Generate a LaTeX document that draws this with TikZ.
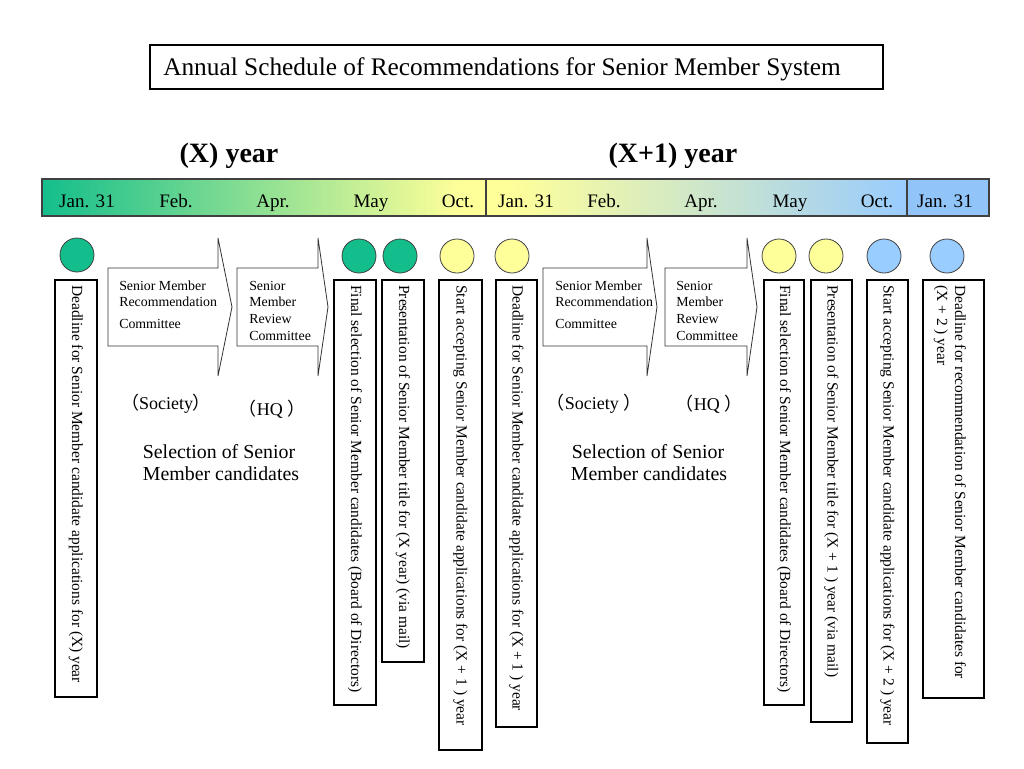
\documentclass[tikz,border=0pt]{standalone}
\usepackage{fontspec}
\setmainfont{Liberation Serif}
\newfontfamily\cjk{Noto Sans CJK JP}
\definecolor{cgreen}{RGB}{20,190,140}
\definecolor{cyellow}{RGB}{255,255,153}
\definecolor{cblue}{RGB}{153,204,255}
\definecolor{cbluebar}{RGB}{145,196,248}
\pgfdeclarehorizontalshading{barshade}{100bp}{color(0bp)=(cgreen); color(25bp)=(cgreen); color(49.2bp)=(cyellow); color(52bp)=(cyellow); color(75bp)=(cblue); color(100bp)=(cblue)}
\newcommand{\lp}{{\cjk （}}
\newcommand{\rp}{{\cjk ）}}
\begin{document}
\begin{tikzpicture}[x=0.75pt,y=-0.75pt,
  vbox/.style={draw=black, line width=1.5pt, fill=white},
  vtext/.style={rotate=-90, anchor=west, inner sep=0pt, font=\fontsize{11.6}{13.5}\selectfont},
  dot/.style={draw=black!75, line width=0.6pt},
  month/.style={anchor=base, inner sep=0pt, font=\fontsize{14.3}{16}\selectfont},
  arrowtxt/.style={anchor=west, inner sep=0pt, font=\fontsize{10.4}{12}\selectfont},
  blockarrow/.style={draw=black!80, line width=0.6pt, fill=white},
  midtxt/.style={inner sep=0pt, font=\fontsize{14.9}{17}\selectfont},
  orgtxt/.style={inner sep=0pt, font=\fontsize{13.5}{16}\selectfont},
  head/.style={anchor=base, inner sep=0pt, font=\fontsize{21}{24}\selectfont\bfseries}]
\useasboundingbox[fill=white] (0,0) rectangle (1024,768);

% title
\draw[line width=1.5pt] (150,45) rectangle (883,89);
\node[anchor=base west, inner sep=0pt, font=\fontsize{19}{22}\selectfont] (title) at (163,75) {Annual Schedule of Recommendations for Senior Member System};

% year headings
\node[head] (hx) at (229,162) {(X) year};
\node[head] (hx1) at (673,162) {(X+1) year};

% bar
\fill[shading=barshade] (42,179) rectangle (907,216);
\fill[cbluebar] (907,179) rectangle (989,216);
\draw[line width=0.8pt, black!75] (42,179) rectangle (989,216);
\draw[line width=0.8pt, black!75] (486,179) -- (486,216);
\draw[line width=0.8pt, black!75] (907,179) -- (907,216);
\node[month] (m1) at (87,207) {Jan. 31};
\node[month] (m2) at (176,207) {Feb.};
\node[month] (m3) at (273,207) {Apr.};
\node[month] (m4) at (371,207) {May};
\node[month] (m5) at (458,207) {Oct.};
\node[month] (m6) at (526,207) {Jan. 31};
\node[month] (m7) at (604,207) {Feb.};
\node[month] (m8) at (701,207) {Apr.};
\node[month] (m9) at (790,207) {May};
\node[month] (m10) at (877,207) {Oct.};
\node[month] (m11) at (945,207) {Jan. 31};

% circles
\draw[dot, fill=cgreen] (77,255) circle (17);
\draw[dot, fill=cgreen] (359,256) circle (17);
\draw[dot, fill=cgreen] (400,256) circle (17);
\draw[dot, fill=cyellow] (457,256) circle (17);
\draw[dot, fill=cyellow] (512,256) circle (17);
\draw[dot, fill=cyellow] (779,256) circle (17);
\draw[dot, fill=cyellow] (826,256) circle (17);
\draw[dot, fill=cblue] (884,256) circle (17);
\draw[dot, fill=cblue] (947,256) circle (17);

% block arrows
\draw[blockarrow] (108,268) -- (218,268) -- (218,238) -- (232,307) -- (218,376) -- (218,346) -- (108,346) -- cycle;
\draw[blockarrow] (237,268) -- (318,268) -- (318,238) -- (328,307) -- (318,376) -- (318,346) -- (237,346) -- cycle;
\draw[blockarrow] (543,268) -- (647,268) -- (647,238) -- (657,307) -- (647,376) -- (647,346) -- (543,346) -- cycle;
\draw[blockarrow] (665,268) -- (747,268) -- (747,238) -- (757,307) -- (747,376) -- (747,346) -- (665,346) -- cycle;

\node[arrowtxt] (a1l1) at (119,286) {Senior Member};
\node[arrowtxt] (a1l2) at (119,302) {Recommendation};
\node[arrowtxt] (a1l3) at (119,324) {Committee};
\node[arrowtxt] (a2l1) at (249,286) {Senior};
\node[arrowtxt] (a2l2) at (249,302) {Member};
\node[arrowtxt] (a2l3) at (249,319) {Review};
\node[arrowtxt] (a2l4) at (249,336) {Committee};
\node[arrowtxt] (a3l1) at (555,286) {Senior Member};
\node[arrowtxt] (a3l2) at (555,302) {Recommendation};
\node[arrowtxt] (a3l3) at (555,324) {Committee};
\node[arrowtxt] (a4l1) at (676,286) {Senior};
\node[arrowtxt] (a4l2) at (676,302) {Member};
\node[arrowtxt] (a4l3) at (676,319) {Review};
\node[arrowtxt] (a4l4) at (676,336) {Committee};

% organisation labels
\node[orgtxt] (soc1) at (166,404) {\lp Society\rp};
\node[orgtxt] (hq1) at (272,409) {\lp HQ \rp};
\node[orgtxt] (soc2) at (594,404) {\lp Society \rp};
\node[orgtxt] (hq2) at (709,404) {\lp HQ \rp};
\node[midtxt] (sel1a) at (219,452) {Selection of Senior};
\node[midtxt] (sel1b) at (221,474) {Member candidates};
\node[midtxt] (sel2a) at (648,452) {Selection of Senior};
\node[midtxt] (sel2b) at (649,474) {Member candidates};

% vertical boxes
\draw[vbox] (55,280) rectangle (97,697);
\node[vtext] (t1) at (76,285) {Deadline for Senior Member candidate applications for (X) year};
\draw[vbox] (334,280) rectangle (376,705);
\node[vtext] (t2) at (355,285) {Final selection of Senior Member candidates (Board of Directors)};
\draw[vbox] (382,280) rectangle (424,662);
\node[vtext] (t3) at (403,285) {Presentation of Senior Member title for (X year) (via mail)};
\draw[vbox] (439,280) rectangle (482,750);
\node[vtext] (t4) at (460.5,285) {Start accepting Senior Member candidate applications for (X + 1 ) year};
\draw[vbox] (496,280) rectangle (537,727);
\node[vtext] (t5) at (516.5,285) {Deadline for Senior Member candidate applications for (X + 1 ) year};
\draw[vbox] (764,280) rectangle (804,705);
\node[vtext] (t6) at (784,285) {Final selection of Senior Member candidates (Board of Directors)};
\draw[vbox] (811,280) rectangle (852,722);
\node[vtext] (t7) at (831.5,285) {Presentation of Senior Member title for (X + 1 ) year (via mail)};
\draw[vbox] (867,280) rectangle (908,743);
\node[vtext] (t8) at (887.5,285) {Start accepting Senior Member candidate applications for (X + 2 ) year};
\draw[vbox] (923,280) rectangle (984,698);
\node[vtext, align=left] (t9) at (950,285) {Deadline for recommendation of Senior Member candidates for\\(X + 2 ) year};
\end{tikzpicture}
\end{document}
